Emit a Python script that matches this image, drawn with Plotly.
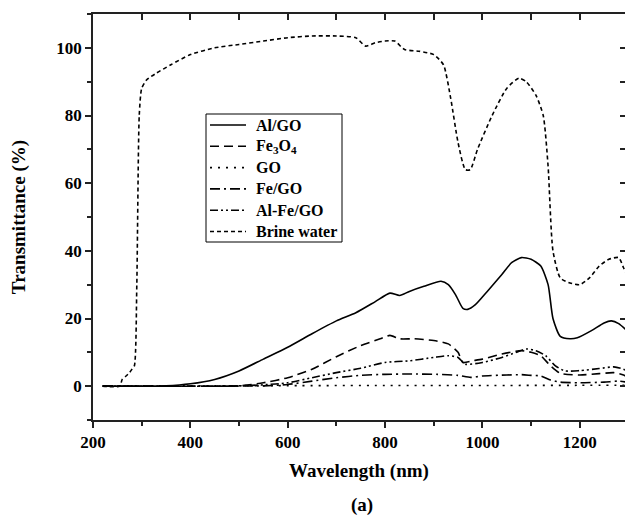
import plotly.graph_objects as go

# ---------------- data ----------------
wl_al_go = [220, 300, 350, 400, 450, 500, 550, 600, 650, 700, 740, 780, 810, 830, 850, 880, 915, 930,
            945, 960, 970, 985, 1010, 1040, 1060, 1080, 1100, 1120, 1135, 1145, 1160, 1180, 1195, 1225,
            1250, 1265, 1280, 1300]
t_al_go = [0, 0, 0.1, 0.7, 2, 4.5, 8, 11.5, 15.5, 19.3, 21.7, 25, 27.5, 26.8, 28, 29.5, 31, 30,
           27, 23, 22.7, 24, 28, 33, 36.5, 38, 37.5, 35.5, 30, 20, 14.7, 14, 14.3, 16.5,
           18.7, 19.3, 18.5, 16]

wl_fe3o4 = [220, 400, 500, 550, 600, 650, 700, 750, 790, 810, 830, 860, 900, 930, 950, 960, 980,
            1000, 1040, 1080, 1100, 1120, 1140, 1160, 1200, 1240, 1270, 1290, 1300]
t_fe3o4 = [0, 0, 0.1, 1, 2.5, 5, 8.7, 12, 14, 15, 14, 14, 13.5, 12.5, 10, 7, 7.5,
           8, 9.5, 10.5, 10, 9, 6, 3.8, 3.3, 3.7, 4, 3.3, 2.5]

wl_go = [220, 400, 600, 800, 1000, 1200, 1300]
t_go = [0.1, 0.1, 0.15, 0.2, 0.2, 0.25, 0.25]

wl_fe_go = [220, 450, 550, 600, 650, 700, 750, 800, 850, 908, 950, 976, 1000, 1050, 1080,
            1100, 1120, 1140, 1160, 1200, 1250, 1280, 1300]
t_fe_go = [0, 0, 0.1, 0.5, 1.5, 2.5, 3.2, 3.5, 3.6, 3.5, 3.2, 2.6, 3, 3.3, 3.4,
           3.2, 3, 1.8, 1.2, 1, 1.2, 1.5, 1.1]

wl_al_fe_go = [220, 450, 500, 550, 600, 650, 700, 750, 800, 850, 900, 930, 950, 965, 1000,
               1040, 1070, 1090, 1110, 1130, 1150, 1170, 1200, 1240, 1270, 1290, 1300]
t_al_fe_go = [0, 0, 0.1, 0.4, 1, 2.5, 4, 5.3, 7, 7.5, 8.5, 9, 8.5, 6.5, 7,
              8.5, 10, 11, 10.5, 9, 6, 4.5, 4.6, 5.2, 5.7, 5, 4]

wl_brine = [220, 255, 260, 268, 275, 280, 285, 290, 295, 300, 310, 330, 360, 400, 450, 500, 550,
            600, 650, 700, 740, 760, 780, 800, 820, 840, 870, 900, 920, 935, 950, 965, 975, 990,
            1020, 1050, 1075, 1090, 1110, 1125, 1135, 1145, 1160, 1180, 1200, 1220, 1240, 1260,
            1280, 1290, 1300]
t_brine = [0, 0, 2, 3, 4, 5, 6, 30, 80, 88, 90.5, 92.5, 95, 98, 100, 101, 102,
           103, 103.5, 103.5, 103, 100.5, 101.5, 102, 102, 99.5, 99, 98, 95, 85, 72, 64, 64, 70,
           80, 88, 91, 90, 86, 80, 65, 40, 32, 30.5, 30, 32, 35.5, 37.5,
           38, 35, 32]

names = ["Al/GO", "Fe<sub>3</sub>O<sub>4</sub>", "GO", "Fe/GO", "Al-Fe/GO", "Brine water"]

# ---------------- figure ----------------
W, H = 625, 524
ML, MR, MT, MB = 93, 0, 14, 104
PW, PH = W - ML - MR, H - MT - MB

dashes = ["solid", "9px,5px", "2px,6px", "10px,4px,2px,4px", "8px,3px,2px,3px,2px,3px", "4px,3px"]
series = [(wl_al_go, t_al_go), (wl_fe3o4, t_fe3o4), (wl_go, t_go),
          (wl_fe_go, t_fe_go), (wl_al_fe_go, t_al_fe_go), (wl_brine, t_brine)]

fig = go.Figure()
for (x, y), dash, name in zip(series, dashes, names):
    fig.add_trace(go.Scatter(
        x=x, y=y, mode="lines", name=name, showlegend=False,
        line=dict(color="black", width=1.6, dash=dash, shape="spline", smoothing=0.6),
    ))

font_family = "Liberation Serif"
axis_common = dict(
    showline=True, linecolor="#222", linewidth=1.8,
    showgrid=False, zeroline=False, automargin=False,
    ticks="outside", ticklen=6, tickwidth=1.5, tickcolor="#222",
    tickfont=dict(family=font_family, size=17, color="black", weight="bold"),
)


def px_x(p):
    return (p - ML) / PW


def px_y(p):
    return (H - MB - p) / PH


# legend drawn as a framed box with line samples and labels
leg_left, leg_right, leg_top, leg_bottom = 206, 342, 114, 242
row_y = [125 + 21.3 * i for i in range(len(names))]
shapes = [dict(type="rect", xref="paper", yref="paper",
               x0=px_x(leg_left), x1=px_x(leg_right), y0=px_y(leg_bottom), y1=px_y(leg_top),
               line=dict(color="black", width=1), fillcolor="white", layer="above")]
annotations = []
for name, dash, ry in zip(names, dashes, row_y):
    shapes.append(dict(type="line", xref="paper", yref="paper",
                       x0=px_x(210), x1=px_x(246), y0=px_y(ry), y1=px_y(ry),
                       line=dict(color="black", width=1.6, dash=dash), layer="above"))
    annotations.append(dict(text=name, xref="paper", yref="paper", x=px_x(254), y=px_y(ry),
                            xanchor="left", yanchor="middle", showarrow=False,
                            font=dict(family=font_family, size=16, color="black", weight="bold")))

annotations.append(dict(
    text="(a)", x=px_x(362), y=px_y(505), xref="paper", yref="paper",
    showarrow=False, xanchor="center", yanchor="middle",
    font=dict(family=font_family, size=19, color="black", weight="bold"),
))

fig.update_layout(
    width=W, height=H,
    margin=dict(l=ML, r=MR, t=MT, b=MB, autoexpand=False),
    paper_bgcolor="white", plot_bgcolor="white",
    font=dict(family=font_family, color="black"),
    showlegend=False,
    xaxis=dict(
        range=[200, 1293], dtick=200, tick0=200,
        minor=dict(dtick=100, ticks="outside", ticklen=4, tickcolor="#222", tickwidth=1.5),
        title=dict(text="Wavelength (nm)", standoff=12,
                   font=dict(family=font_family, size=19, color="black", weight="bold")),
        mirror=False,
        **axis_common,
    ),
    yaxis=dict(
        range=[-10, 110], dtick=20, tick0=0,
        minor=dict(dtick=10, ticks="outside", ticklen=4, tickcolor="#222", tickwidth=1.5),
        title=dict(text="Transmittance (%)", standoff=26,
                   font=dict(family=font_family, size=19, color="black", weight="bold")),
        **axis_common,
    ),
    xaxis2=dict(
        overlaying="x", side="top", matches="x", range=[200, 1293],
        dtick=100, tick0=200, showticklabels=False, automargin=False,
        showline=True, linecolor="#222", linewidth=1.8,
        ticks="inside", ticklen=6, tickwidth=1.5, tickcolor="#222",
        showgrid=False, zeroline=False,
    ),
    yaxis2=dict(
        overlaying="y", side="right", matches="y", range=[-10, 110],
        dtick=10, tick0=0, showticklabels=False, automargin=False,
        showline=False, ticks="inside", ticklen=5, tickwidth=1.5, tickcolor="#222",
        showgrid=False, zeroline=False,
    ),
    shapes=shapes,
    annotations=annotations,
)

# invisible traces to display the top and right tick axes
fig.add_trace(go.Scatter(x=[200], y=[None], xaxis="x2", showlegend=False, hoverinfo="skip"))
fig.add_trace(go.Scatter(x=[None], y=[0], yaxis="y2", showlegend=False, hoverinfo="skip"))

# remove the browser's default 8px page margin so the figure sits at the window's corner
fig.write_html("out.html", config={"displayModeBar": False},
               post_script="document.body.style.margin='0';")
